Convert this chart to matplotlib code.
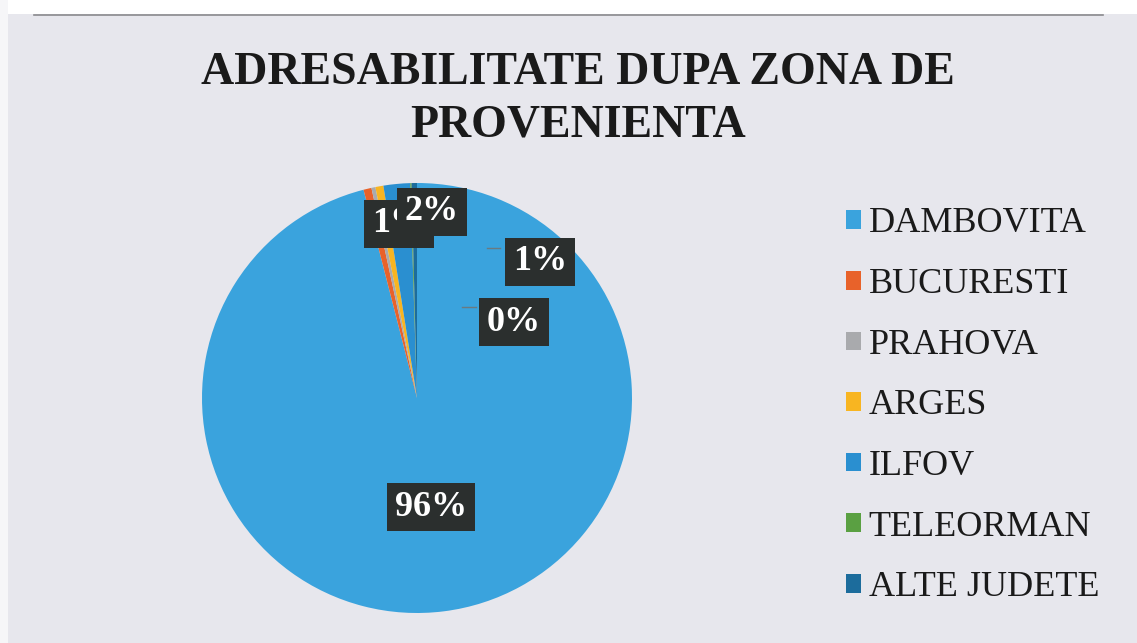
import matplotlib
matplotlib.use("Agg")
import matplotlib.pyplot as plt
from matplotlib.patches import Patch, Rectangle
from matplotlib.lines import Line2D

# ---- data ----
categories = ["DAMBOVITA", "BUCURESTI", "PRAHOVA", "ARGES", "ILFOV", "TELEORMAN", "ALTE JUDETE"]
values = [96.0, 0.6, 0.3, 0.6, 2.0, 0.1, 0.4]
colors = ["#3aa3dd", "#e8622a", "#a9aaad", "#f8b521", "#2a8fd0", "#5aa042", "#1c6c9c"]
title = "ADRESABILITATE DUPA ZONA DE\nPROVENIENTA"

# which slices show a label, and where the label box sits (figure pixels from top-left)
label_idx = [1, 4, 3, 6, 0]
label_pos = [(399, 224), (432, 212), (540, 262), (514, 322), (431, 507)]

W, H = 1137, 643
fig = plt.figure(figsize=(W / 100, H / 100), dpi=100)
fig.patch.set_facecolor("#e7e7ed")
# scan borders
fig.patches.append(Rectangle((0, 1 - 14 / H), 1, 14 / H, transform=fig.transFigure,
                             facecolor="white", edgecolor="none", zorder=0))
fig.patches.append(Rectangle((0, 0), 8 / W, 1, transform=fig.transFigure,
                             facecolor="#f6f6f8", edgecolor="none", zorder=0))
fig.lines.append(Line2D([0.03, 0.97], [1 - 15 / H, 1 - 15 / H], transform=fig.transFigure,
                        color="#8a8a8e", lw=1.2))

cx, cy, r = 417, 398, 215
ax = fig.add_axes([(cx - r) / W, (H - cy - r) / H, 2 * r / W, 2 * r / H])
wedges, _ = ax.pie(values, colors=colors, startangle=90, counterclock=False,
                   radius=1.0, wedgeprops=dict(linewidth=0))
ax.set_xlim(-1, 1)
ax.set_ylim(-1, 1)
ax.set_aspect("equal")
ax.axis("off")

total = sum(values)
serif = ["Liberation Serif", "DejaVu Serif"]
for i, (px, py) in zip(label_idx, label_pos):
    txt = f"{round(values[i] / total * 100):.0f}%"
    fig.text(px / W, 1 - py / H, txt, ha="center", va="center", color="white",
             fontsize=26, fontweight="bold", family=serif,
             bbox=dict(boxstyle="square,pad=0.22", facecolor="#2b2f2e", edgecolor="none"))

# short leader ticks
for (x0, x1, y) in [(487, 500, 248), (462, 476, 307)]:
    fig.lines.append(Line2D([x0 / W, x1 / W], [1 - y / H, 1 - y / H], transform=fig.transFigure,
                            color="#6a7a80", lw=1))

fig.text(578 / W, 1 - 99 / H, title, ha="center", va="center", fontsize=33,
         fontweight="bold", family=serif, color="#1a1a1a", linespacing=1.33)

handles = [Patch(facecolor=c, edgecolor="none") for c in colors]
fig.legend(handles, categories, loc="upper left", bbox_to_anchor=(813 / W, 1 - 175 / H),
           frameon=False, prop=dict(family=serif, size=26), labelspacing=0.765,
           handlelength=0.42, handleheight=0.42, handletextpad=0.22, labelcolor="#1a1a1a")

fig.savefig("out.png", dpi=100, facecolor=fig.get_facecolor())
